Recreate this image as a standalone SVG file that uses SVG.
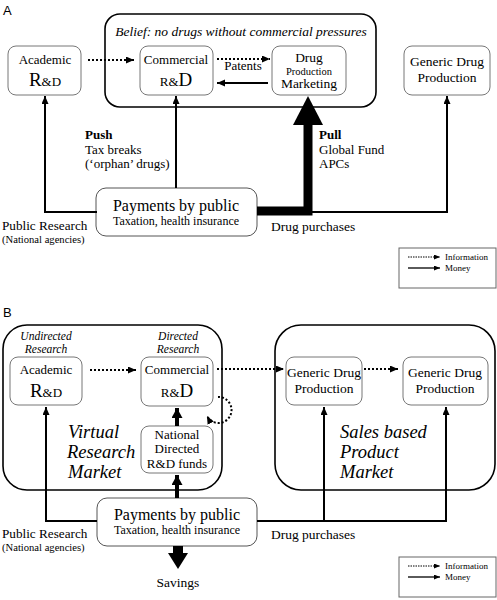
<svg xmlns="http://www.w3.org/2000/svg" width="497" height="600" viewBox="0 0 497 600">
<defs>
<style>
text{font-family:"Liberation Serif","Times New Roman",serif;fill:#000}
.lbl{font-family:"Liberation Sans",Arial,sans-serif;font-size:13px}
.box{fill:#fff;stroke:#777;stroke-width:1}
.big{fill:none;stroke:#000;stroke-width:1.6}
.pay{fill:#fff;stroke:#555;stroke-width:1}
.money{fill:none;stroke:#000;stroke-width:2}
.info{fill:none;stroke:#000;stroke-width:2;stroke-dasharray:2 2}
.c{text-anchor:middle}
.it{font-style:italic}
.leg{fill:#fff;stroke:#666;stroke-width:1}
</style>
<marker id="ah" markerUnits="userSpaceOnUse" markerWidth="10" markerHeight="8" refX="8" refY="3.5" orient="auto">
<path d="M0,0 L8,3.5 L0,7 z" fill="#000"/>
</marker>
<marker id="ahs" markerUnits="userSpaceOnUse" markerWidth="8" markerHeight="6" refX="6" refY="2.5" orient="auto">
<path d="M0,0 L6,2.5 L0,5 z" fill="#000"/>
</marker>
<marker id="ahb" markerUnits="userSpaceOnUse" markerWidth="12" markerHeight="12" refX="10" refY="5.5" orient="auto">
<path d="M0,0 L10,5.5 L0,11 z" fill="#000"/>
</marker>
</defs>
<rect width="497" height="600" fill="#fff"/>

<!-- Panel A -->
<text class="lbl" x="3" y="15">A</text>
<g id="a-belief">
<rect class="big" x="105" y="14" width="271" height="93" rx="15"/>
<text class="it" x="241" y="36" text-anchor="middle" font-size="13.5">Belief: no drugs without commercial pressures</text>
</g>
<g id="a-academic">
<rect class="box" x="8" y="46" width="73" height="49" rx="8"/>
<text class="c" x="45" y="64" font-size="13">Academic</text>
<text class="c" x="45" y="86"><tspan font-size="19">R</tspan><tspan font-size="13">&amp;D</tspan></text>
</g>
<g id="a-commercial">
<rect class="box" x="140" y="46" width="73" height="49" rx="8"/>
<text class="c" x="176" y="64" font-size="13">Commercial</text>
<text class="c" x="176" y="86"><tspan font-size="13">R&amp;</tspan><tspan font-size="19">D</tspan></text>
</g>
<g id="a-drug">
<rect class="box" x="272" y="46" width="74" height="49" rx="8"/>
<text class="c" x="309" y="62" font-size="13.5">Drug</text>
<text class="c" x="309" y="75" font-size="10.5">Production</text>
<text class="c" x="309" y="88" font-size="13.5">Marketing</text>
</g>
<g id="a-generic">
<rect class="box" x="404" y="46" width="86" height="49" rx="8"/>
<text class="c" x="447" y="66" font-size="13.5">Generic Drug</text>
<text class="c" x="447" y="82" font-size="13.5">Production</text>
</g>
<g id="a-payments">
<rect class="pay" x="96" y="188" width="161" height="48" rx="10"/>
<text class="c" x="176" y="211" font-size="16">Payments by public</text>
<text class="c" x="176" y="225" font-size="12">Taxation, health insurance</text>
</g>
<g id="a-labels">
<text x="243" y="70" text-anchor="middle" font-size="13">Patents</text>
<text x="85" y="139" font-size="13" font-weight="bold">Push</text>
<text x="85" y="154" font-size="13">Tax breaks</text>
<text x="85" y="168" font-size="13">(‘orphan’ drugs)</text>
<text x="319" y="139" font-size="13" font-weight="bold">Pull</text>
<text x="319" y="154" font-size="13">Global Fund</text>
<text x="319" y="168" font-size="13">APCs</text>
<text x="2" y="230" font-size="13.2">Public Research</text>
<text x="2" y="243" font-size="10.6">(National agencies)</text>
<text x="271" y="231" font-size="13.5">Drug purchases</text>
</g>
<g id="a-connectors">
<path class="info" d="M88 60 H134" marker-end="url(#ah)"/>
<path class="info" d="M217 59 H270" marker-end="url(#ah)"/>
<path class="money" d="M268 83 H217" marker-end="url(#ah)"/>
<path class="money" d="M97 212 H45 V96" marker-end="url(#ah)"/>
<path class="money" d="M176 188 V96" marker-end="url(#ah)"/>
<path class="money" d="M312 212 H447 V96" marker-end="url(#ah)"/>
<path d="M257 211 H308 V124" fill="none" stroke="#000" stroke-width="9"/>
<polygon points="293,125 323,125 308,96" fill="#000"/>
</g>
<g id="a-legend">
<rect class="leg" x="399" y="248" width="97" height="40"/>
<path d="M408 257 H440" fill="none" stroke="#000" stroke-width="1" stroke-dasharray="1.5 1" marker-end="url(#ahs)"/>
<path d="M408 268 H440" fill="none" stroke="#000" stroke-width="1.3" marker-end="url(#ahs)"/>
<text x="445" y="260" font-size="9">Information</text>
<text x="445" y="271" font-size="9">Money</text>
</g>

<!-- Panel B -->
<text class="lbl" x="3" y="317">B</text>
<g id="b-virtual">
<rect class="big" x="3" y="325" width="219" height="165" rx="24"/>
<text class="it" x="46" y="340" text-anchor="middle" font-size="11.5">Undirected</text>
<text class="it" x="46" y="353" text-anchor="middle" font-size="11.5">Research</text>
<text class="it" x="178" y="340" text-anchor="middle" font-size="11.5">Directed</text>
<text class="it" x="178" y="353" text-anchor="middle" font-size="11.5">Research</text>
<text class="it" x="68" y="438" font-size="18.5">Virtual</text>
<text class="it" x="67" y="458" font-size="18.5">Research</text>
<text class="it" x="68" y="478" font-size="18.5">Market</text>
</g>
<g id="b-sales">
<rect class="big" x="275" y="325" width="220" height="165" rx="26"/>
<text class="it" x="340" y="438" font-size="18.5">Sales based</text>
<text class="it" x="340" y="458" font-size="18.5">Product</text>
<text class="it" x="340" y="478" font-size="18.5">Market</text>
</g>
<g id="b-academic">
<rect class="box" x="10" y="357" width="72" height="48" rx="8"/>
<text class="c" x="46" y="374" font-size="13">Academic</text>
<text class="c" x="46" y="397"><tspan font-size="19">R</tspan><tspan font-size="13">&amp;D</tspan></text>
</g>
<g id="b-commercial">
<rect class="box" x="141" y="357" width="72" height="49" rx="8"/>
<text class="c" x="177" y="374" font-size="13">Commercial</text>
<text class="c" x="177" y="397"><tspan font-size="13">R&amp;</tspan><tspan font-size="19">D</tspan></text>
</g>
<g id="b-national">
<rect class="box" x="141" y="426" width="72" height="47" rx="8"/>
<text class="c" x="177" y="439" font-size="13">National</text>
<text class="c" x="177" y="453" font-size="13">Directed</text>
<text class="c" x="177" y="468" font-size="13">R&amp;D funds</text>
</g>
<g id="b-generic1">
<rect class="box" x="286" y="357" width="76" height="48" rx="8"/>
<text class="c" x="324" y="377" font-size="13.5">Generic Drug</text>
<text class="c" x="324" y="393" font-size="13.5">Production</text>
</g>
<g id="b-generic2">
<rect class="box" x="403" y="357" width="85" height="48" rx="8"/>
<text class="c" x="445" y="377" font-size="13.5">Generic Drug</text>
<text class="c" x="445" y="393" font-size="13.5">Production</text>
</g>
<g id="b-payments">
<rect class="pay" x="97" y="498" width="160" height="48" rx="10"/>
<text class="c" x="177" y="520" font-size="16">Payments by public</text>
<text class="c" x="177" y="534" font-size="12">Taxation, health insurance</text>
</g>
<g id="b-labels">
<text x="2" y="538" font-size="13.2">Public Research</text>
<text x="2" y="551" font-size="10.6">(National agencies)</text>
<text x="271" y="539" font-size="13.5">Drug purchases</text>
<text x="178" y="587" text-anchor="middle" font-size="13.5">Savings</text>
</g>
<g id="b-connectors">
<path class="info" d="M90 370 H136" marker-end="url(#ah)"/>
<path class="info" d="M217 369 H284" marker-end="url(#ah)"/>
<path class="info" d="M364 369 H398" marker-end="url(#ah)"/>
<path class="info" d="M218 397 A13 13 0 1 1 207 416" marker-end="url(#ah)"/>
<path d="M177 426 V408" fill="none" stroke="#000" stroke-width="4" marker-end="url(#ahb)"/>
<path d="M177 498 V475" fill="none" stroke="#000" stroke-width="4" marker-end="url(#ahb)"/>
<path class="money" d="M97 521 H46 V407" marker-end="url(#ah)"/>
<path class="money" d="M257 521 H446 V407" marker-end="url(#ah)"/>
<path class="money" d="M324 521 V407" marker-end="url(#ah)"/>
<path d="M178 546 V554" fill="none" stroke="#000" stroke-width="10"/>
<polygon points="168,553 188,553 178,569" fill="#000"/>
</g>
<g id="b-legend">
<rect class="leg" x="399" y="557" width="97" height="40"/>
<path d="M408 566 H440" fill="none" stroke="#000" stroke-width="1" stroke-dasharray="1.5 1" marker-end="url(#ahs)"/>
<path d="M408 577 H440" fill="none" stroke="#000" stroke-width="1.3" marker-end="url(#ahs)"/>
<text x="445" y="569" font-size="9">Information</text>
<text x="445" y="580" font-size="9">Money</text>
</g>
</svg>
